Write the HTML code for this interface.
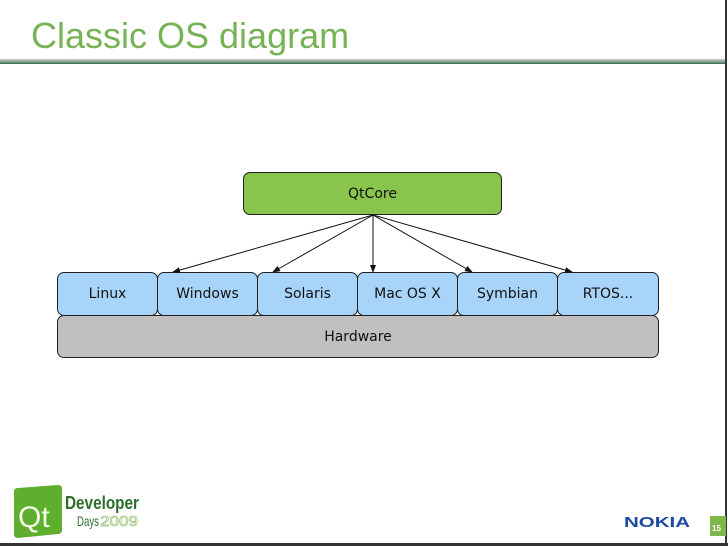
<!DOCTYPE html>
<html><head><meta charset="utf-8"><style>
body{margin:0;width:728px;height:546px;background:#fff;position:relative;overflow:hidden;font-family:"DejaVu Sans","Liberation Sans",sans-serif}
.t{position:absolute;left:31px;top:15px;font:36px "Liberation Sans",sans-serif;color:#77b256}
.b{position:absolute;box-sizing:border-box;border:1.3px solid #222;border-radius:7px;display:flex;align-items:center;justify-content:center;font-size:14px;color:#111}
.os{top:272px;height:44px;width:101px;background:#a9d4fa}
</style></head><body>
<div class="t">Classic OS diagram</div>
<div style="position:absolute;left:0;top:59px;width:726px;height:5px;background:linear-gradient(#c8d0c8,#8fa898,#2f6a48)"></div>
<div style="position:absolute;left:725px;top:0;width:2px;height:546px;background:#333"></div>
<div style="position:absolute;left:0;top:543px;width:728px;height:3px;background:#333"></div>
<div class="b" style="left:243px;top:172px;width:259px;height:43px;background:#89c54c">QtCore</div>
<div class="b" style="left:57px;top:315px;width:602px;height:43px;background:#c0c0c0">Hardware</div>
<div class="b os" style="left:57px">Linux</div>
<div class="b os" style="left:157px">Windows</div>
<div class="b os" style="left:257px">Solaris</div>
<div class="b os" style="left:357px">Mac OS X</div>
<div class="b os" style="left:457px">Symbian</div>
<div class="b os" style="left:557px;width:102px">RTOS...</div>
<svg style="position:absolute;left:0;top:0" width="728" height="546">
<defs><marker id="a" markerWidth="8" markerHeight="6" refX="7" refY="3" orient="auto"><path d="M0,0L8,3L0,6z" fill="#111"/></marker></defs>
<g stroke="#111" stroke-width="1" marker-end="url(#a)">
<line x1="373" y1="215" x2="173" y2="272"/>
<line x1="373" y1="215" x2="273" y2="272"/>
<line x1="373" y1="215" x2="373" y2="272"/>
<line x1="373" y1="215" x2="472" y2="272"/>
<line x1="373" y1="215" x2="572" y2="272"/>
</g>
<path d="M18,488 L58,485 Q62,485 62,489 L62,530 Q62,534 58,534 L18,538 Q14,538 14,534 L14,492 Q14,488 18,488 Z" fill="#5fae2e"/>
<text x="18" y="527" font-family="Liberation Sans" font-size="30" fill="#f2fbe9">Qt</text>
<text x="65" y="509" font-family="Liberation Sans" font-size="18" font-weight="bold" fill="#2a6e2a" textLength="74" lengthAdjust="spacingAndGlyphs">Developer</text>
<text x="77" y="526" font-family="Liberation Sans" font-size="14" fill="#2a6e2a" textLength="22" lengthAdjust="spacingAndGlyphs">Days</text>
<text x="100" y="526" font-family="Liberation Sans" font-size="15" fill="#fff" stroke="#9ac27a" stroke-width="0.7" textLength="38" lengthAdjust="spacingAndGlyphs">2009</text>
<text x="624" y="527" font-family="Liberation Sans" font-size="15" font-weight="bold" fill="#1b4aa0" textLength="66" lengthAdjust="spacingAndGlyphs">NOKIA</text>
<rect x="710" y="516" width="16" height="20" fill="#7fb84a"/>
<text x="712" y="531" font-family="Liberation Sans" font-size="8" font-weight="bold" fill="#fff">15</text>
</svg>
</body></html>
